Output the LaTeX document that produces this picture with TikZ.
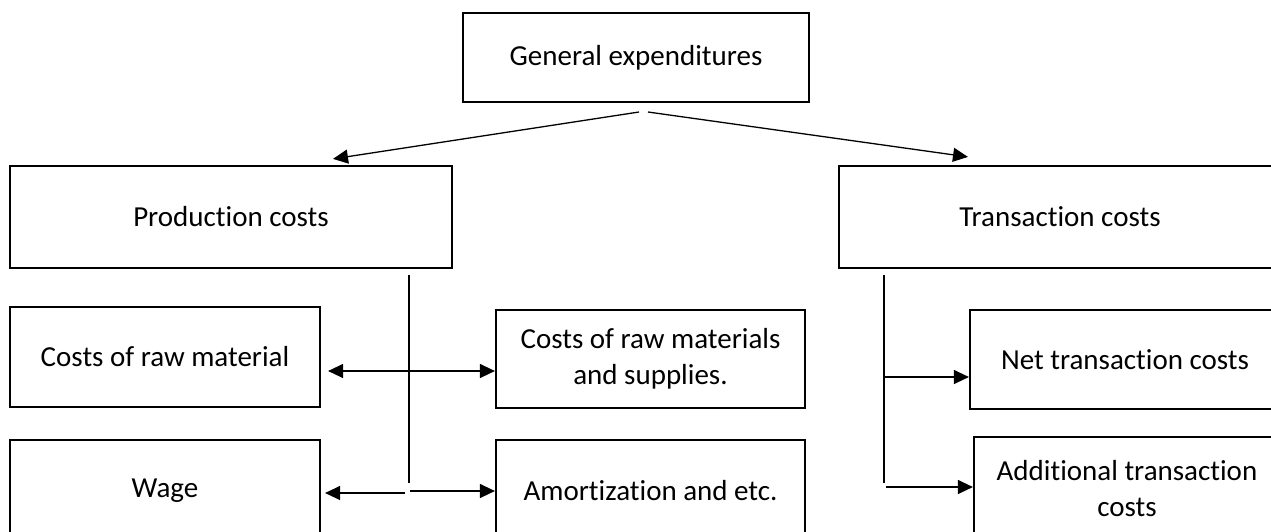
\documentclass[tikz,border=0pt]{standalone}
\usepackage{fontspec}
\setmainfont{Carlito}[RawFeature={-liga;-clig;-calt;-dlig}]
\usetikzlibrary{arrows.meta,calc}
\begin{document}
\begin{tikzpicture}[x=1pt,y=-1pt,
  box/.style={draw, line width=2.2pt, rectangle, inner sep=0pt, align=center,
    font=\fontsize{29}{36}\selectfont},
  link/.style={line width=1.3pt},
  arr/.style={link, -{Triangle[length=15pt,width=14pt]}}]
\useasboundingbox (0,0) rectangle (1271,531);
\clip (0,0) rectangle (1271,531);

% boxes
\node[box, minimum width=346pt, minimum height=89pt]  (gen)   at (636,57.5)  {General expenditures};
\node[box, minimum width=442pt, minimum height=102pt] (prod)  at (231,217)   {Production costs};
\node[box, minimum width=442pt, minimum height=102pt] (trans) at (1060,217)  {Transaction costs};
\node[box, minimum width=310pt, minimum height=100pt] (raw)   at (165,357)   {Costs of raw material};
\node[box, minimum width=310pt, minimum height=102pt] (wage)  at (165,491)   {Wage};
\node[box, minimum width=309pt, minimum height=98pt]  (sup)   at (650.5,359) {Costs of raw materials\\and supplies.};
\node[box, minimum width=309pt, minimum height=102pt] (amort) at (650.5,491) {Amortization and etc.};
\node[box, minimum width=310pt, minimum height=99pt]  (net)   at (1125,359.5){Net transaction costs};
\node[box, minimum width=306pt, minimum height=104pt] (add)   at (1127,489)  {Additional transaction\\costs};

% top split
\coordinate (gl) at (639,112);
\coordinate (gr) at (648,112);
\draw[arr] (gl) -- ($(prod.north)+(102,-6)$);
\draw[arr] (gr) -- ($(trans.north)+(-92,-8)$);

% production branch
\coordinate (pt) at (409,275);
\coordinate (pb) at (409,483);
\coordinate (p1) at (409,371);
\coordinate (p2l) at (405,493);
\coordinate (p2r) at (410,491);
\draw[link] (pt) -- (pb);
\draw[arr, shorten >=7pt] (p1) -- (raw.east |- p1);
\draw[arr] (p1) -- (sup.west |- p1);
\draw[arr, shorten >=4pt] (p2l) -- (wage.east |- p2l);
\draw[arr] (p2r) -- (amort.west |- p2r);

% transaction branch
\coordinate (tt) at (884,275);
\coordinate (tb) at (884,483);
\coordinate (t1) at (884,377);
\coordinate (t2) at (886,487);
\draw[link] (tt) -- (tb);
\draw[arr] (t1) -- (net.west |- t1);
\draw[arr] (t2) -- (add.west |- t2);
\end{tikzpicture}
\end{document}
